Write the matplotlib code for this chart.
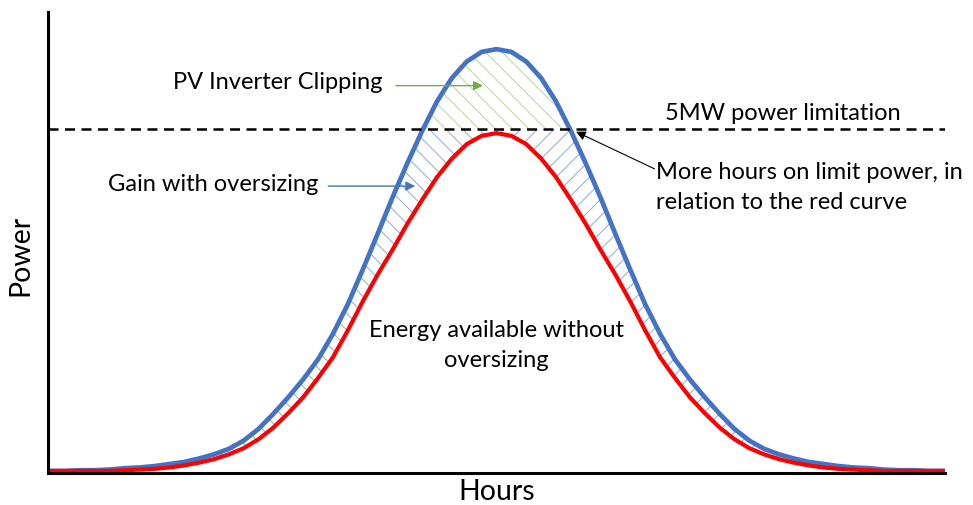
import numpy as np
import matplotlib
matplotlib.use("Agg")
import matplotlib.pyplot as plt
from matplotlib.patches import Rectangle

plt.rcParams['font.family'] = ['Lato', 'DejaVu Sans']
plt.rcParams['hatch.linewidth'] = 0.7

# hours of the day and power (MW)
hours = [0.0, 0.4, 0.8, 1.2, 1.6, 2.0, 2.4, 2.8, 3.2, 3.6, 4.0, 4.4, 4.8, 5.2,
         5.6, 6.0, 6.4, 6.8, 7.2, 7.6, 8.0, 8.4, 8.8, 9.2, 9.6, 10.0, 10.4,
         10.8, 11.2, 11.6, 12.0, 12.4, 12.8, 13.2, 13.6, 14.0, 14.4, 14.8,
         15.2, 15.6, 16.0, 16.4, 16.8, 17.2, 17.6, 18.0, 18.4, 18.8, 19.2,
         19.6, 20.0, 20.4, 20.8, 21.2, 21.6, 22.0, 22.4, 22.8, 23.2, 23.6, 24.0]

oversized_mw = [0.03, 0.03, 0.04, 0.04, 0.05, 0.07, 0.08, 0.10, 0.13, 0.16,
                0.21, 0.27, 0.35, 0.47, 0.64, 0.86, 1.10, 1.36, 1.65, 2.02,
                2.45, 2.95, 3.47, 4.00, 4.50, 4.97, 5.40, 5.74, 5.98, 6.12,
                6.16, 6.12, 5.98, 5.74, 5.40, 4.97, 4.50, 4.00, 3.47, 2.95,
                2.45, 2.02, 1.65, 1.36, 1.10, 0.86, 0.64, 0.47, 0.35, 0.27,
                0.21, 0.16, 0.13, 0.10, 0.08, 0.07, 0.05, 0.04, 0.04, 0.03, 0.03]

nominal_mw = [0.03, 0.03, 0.03, 0.03, 0.03, 0.04, 0.05, 0.06, 0.08, 0.11,
              0.15, 0.20, 0.27, 0.36, 0.49, 0.66, 0.87, 1.10, 1.38, 1.68,
              2.07, 2.49, 2.88, 3.24, 3.62, 3.97, 4.30, 4.57, 4.78, 4.90,
              4.94, 4.90, 4.78, 4.57, 4.30, 3.97, 3.62, 3.24, 2.88, 2.49,
              2.07, 1.68, 1.38, 1.10, 0.87, 0.66, 0.49, 0.36, 0.27, 0.20,
              0.15, 0.11, 0.08, 0.06, 0.05, 0.04, 0.03, 0.03, 0.03, 0.03, 0.03]

limit_mw = 5.0
noon = 12.0

x = np.array(hours)
by = np.array(oversized_mw)
ry = np.array(nominal_mw)

fig = plt.figure(figsize=(9.73, 5.05), dpi=100)
ax = fig.add_axes([48 / 973, 32 / 505, 897 / 973, 461 / 505])
ax.set_xlim(-0.06, 24.06)
ax.set_ylim(0, 6.70)

# hatched gain between the curves, under the limit
for x0, hatch in [(-1, '\\\\'), (noon, '//')]:
    gain = ax.fill_between(x, ry, by, facecolor='none', edgecolor='#8eaadb',
                           hatch=hatch, linewidth=0)
    gain.set_clip_path(Rectangle((x0, 0), 13, limit_mw, transform=ax.transData))

# clipped energy above the limit
clip = ax.fill_between(x, 0, by, facecolor='none', edgecolor='#b4d89c',
                       hatch='\\\\', linewidth=0)
clip.set_clip_path(Rectangle((-1, limit_mw), 26, 3, transform=ax.transData))

ax.plot(x, by, color='#4472c4', lw=3.4, solid_joinstyle='round')
ax.plot(x, ry, color='#ff0000', lw=3.0, solid_joinstyle='round')
ax.axhline(limit_mw, color='black', lw=1.8, dashes=(4, 2.6))

for s in ['top', 'right']:
    ax.spines[s].set_visible(False)
for s in ['left', 'bottom']:
    ax.spines[s].set_linewidth(2.2)
ax.set_xticks([])
ax.set_yticks([])

fs = 17
ax.text(6.12, 5.67, 'PV Inverter Clipping', fontsize=fs, ha='center', va='center')
ax.annotate('', xy=(11.71, 5.63), xytext=(9.22, 5.63),
            arrowprops=dict(arrowstyle='-|>', color='#70ad47', lw=1.0, mutation_scale=14))
ax.text(4.38, 4.20, 'Gain with oversizing', fontsize=fs, ha='center', va='center')
ax.annotate('', xy=(9.89, 4.17), xytext=(7.40, 4.17),
            arrowprops=dict(arrowstyle='-|>', color='#4472c4', lw=1.0, mutation_scale=14))
ax.text(19.70, 5.23, '5MW power limitation', fontsize=fs, ha='center', va='center')
ax.text(16.28, 4.15, 'More hours on limit power, in\nrelation to the red curve',
        fontsize=fs, ha='left', va='center', linespacing=1.5)
ax.annotate('', xy=(14.14, 4.96), xytext=(16.25, 4.42),
            arrowprops=dict(arrowstyle='-|>', color='black', lw=0.8, mutation_scale=14,
                            shrinkA=0, shrinkB=0))
ax.text(12.0, 1.85, 'Energy available without\noversizing', fontsize=fs,
        ha='center', va='center', linespacing=1.5)

fig.text(20 / 973, 1 - 255 / 505, 'Power', fontsize=20.5, rotation=90,
         ha='center', va='center')
fig.text(497 / 973, 1 - 492 / 505, 'Hours', fontsize=20.5, ha='center', va='center')

fig.savefig('out.png', dpi=100)
